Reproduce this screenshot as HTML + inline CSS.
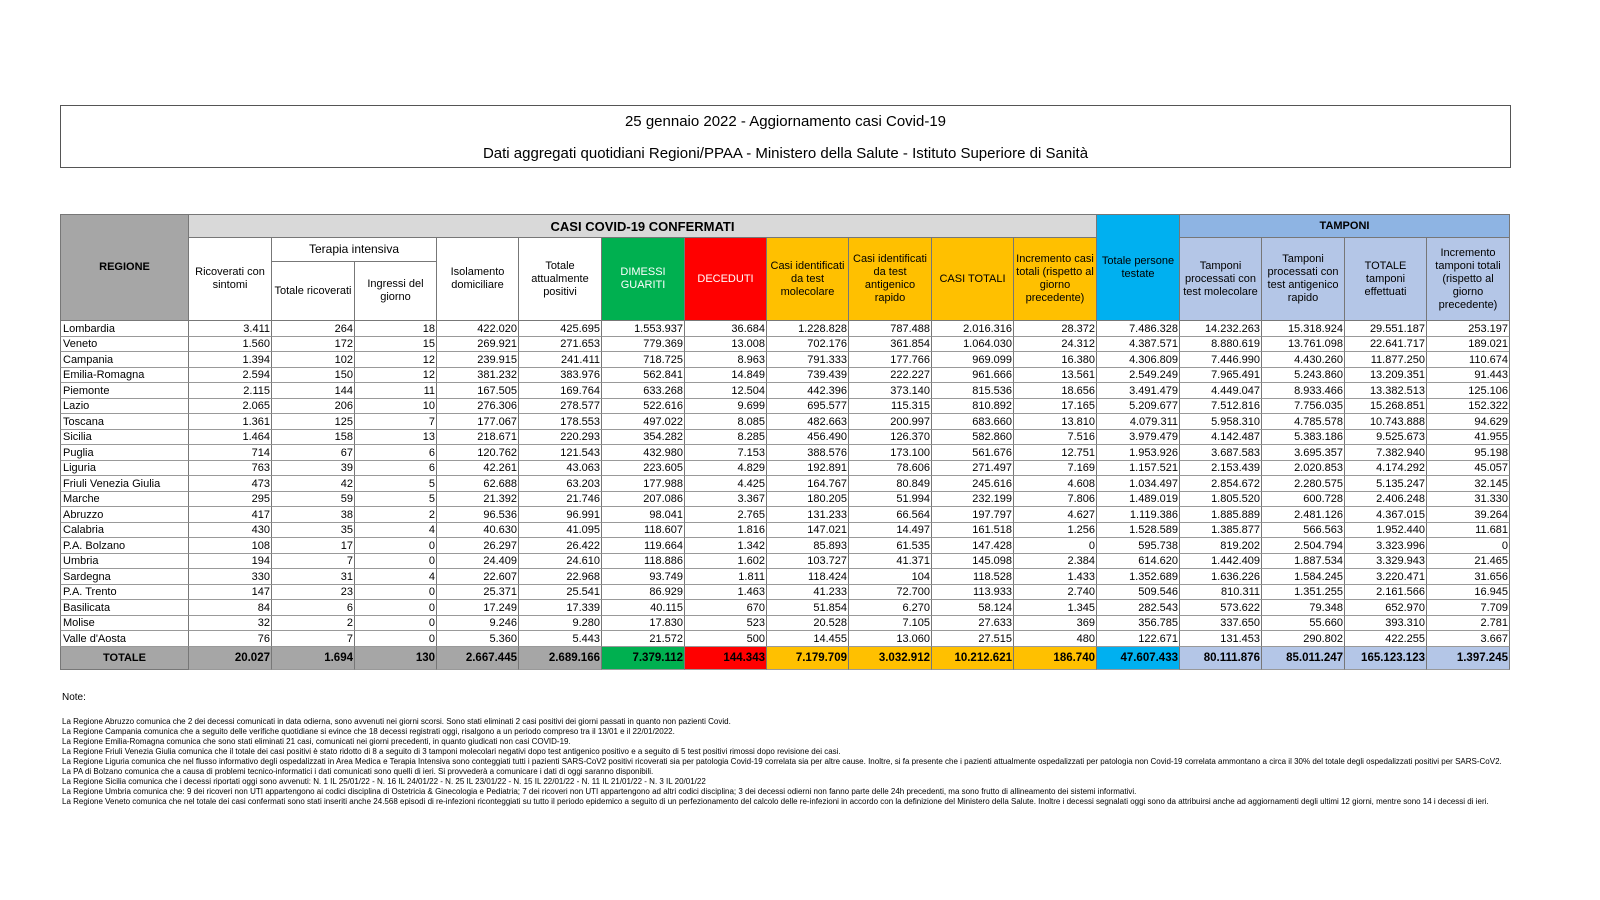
<!DOCTYPE html>
<html><head><meta charset="utf-8"><style>
body{margin:0;width:1600px;height:900px;background:#fff;position:relative;overflow:hidden;font-family:"Liberation Sans Narrow","Liberation Sans",sans-serif;color:#000}
.c{position:absolute;box-sizing:border-box;border-right:1px solid #777;border-bottom:1px solid #999;font-size:11px;display:flex;align-items:center;overflow:hidden;white-space:nowrap}
.h{justify-content:center;text-align:center;white-space:normal;line-height:13px;border:1px solid #777;border-left:none;border-top:none}
.n{justify-content:flex-end;padding-right:1px}
#title{position:absolute;left:60px;top:105px;width:1451px;height:63px;box-sizing:border-box;border:1px solid #555;text-align:center;font-size:15px}
.note{position:absolute;left:62px;font-size:8px;white-space:nowrap}
</style></head><body>
<div id="title">
<div style="position:absolute;top:7px;width:100%">25 gennaio 2022 - Aggiornamento casi Covid-19</div>
<div style="position:absolute;top:39px;width:100%">Dati aggregati quotidiani Regioni/PPAA - Ministero della Salute - Istituto Superiore di Sanità</div>
</div>
<div id="tbl"></div>
<div class="note" style="top:692px;font-size:10px">Note:</div>
<div id="notes"></div>
<script>
const regions=["Lombardia","Veneto","Campania","Emilia-Romagna","Piemonte","Lazio","Toscana","Sicilia","Puglia","Liguria","Friuli Venezia Giulia","Marche","Abruzzo","Calabria","P.A. Bolzano","Umbria","Sardegna","P.A. Trento","Basilicata","Molise","Valle d'Aosta"];
const values=[
["3.411","264","18","422.020","425.695","1.553.937","36.684","1.228.828","787.488","2.016.316","28.372","7.486.328","14.232.263","15.318.924","29.551.187","253.197"],
["1.560","172","15","269.921","271.653","779.369","13.008","702.176","361.854","1.064.030","24.312","4.387.571","8.880.619","13.761.098","22.641.717","189.021"],
["1.394","102","12","239.915","241.411","718.725","8.963","791.333","177.766","969.099","16.380","4.306.809","7.446.990","4.430.260","11.877.250","110.674"],
["2.594","150","12","381.232","383.976","562.841","14.849","739.439","222.227","961.666","13.561","2.549.249","7.965.491","5.243.860","13.209.351","91.443"],
["2.115","144","11","167.505","169.764","633.268","12.504","442.396","373.140","815.536","18.656","3.491.479","4.449.047","8.933.466","13.382.513","125.106"],
["2.065","206","10","276.306","278.577","522.616","9.699","695.577","115.315","810.892","17.165","5.209.677","7.512.816","7.756.035","15.268.851","152.322"],
["1.361","125","7","177.067","178.553","497.022","8.085","482.663","200.997","683.660","13.810","4.079.311","5.958.310","4.785.578","10.743.888","94.629"],
["1.464","158","13","218.671","220.293","354.282","8.285","456.490","126.370","582.860","7.516","3.979.479","4.142.487","5.383.186","9.525.673","41.955"],
["714","67","6","120.762","121.543","432.980","7.153","388.576","173.100","561.676","12.751","1.953.926","3.687.583","3.695.357","7.382.940","95.198"],
["763","39","6","42.261","43.063","223.605","4.829","192.891","78.606","271.497","7.169","1.157.521","2.153.439","2.020.853","4.174.292","45.057"],
["473","42","5","62.688","63.203","177.988","4.425","164.767","80.849","245.616","4.608","1.034.497","2.854.672","2.280.575","5.135.247","32.145"],
["295","59","5","21.392","21.746","207.086","3.367","180.205","51.994","232.199","7.806","1.489.019","1.805.520","600.728","2.406.248","31.330"],
["417","38","2","96.536","96.991","98.041","2.765","131.233","66.564","197.797","4.627","1.119.386","1.885.889","2.481.126","4.367.015","39.264"],
["430","35","4","40.630","41.095","118.607","1.816","147.021","14.497","161.518","1.256","1.528.589","1.385.877","566.563","1.952.440","11.681"],
["108","17","0","26.297","26.422","119.664","1.342","85.893","61.535","147.428","0","595.738","819.202","2.504.794","3.323.996","0"],
["194","7","0","24.409","24.610","118.886","1.602","103.727","41.371","145.098","2.384","614.620","1.442.409","1.887.534","3.329.943","21.465"],
["330","31","4","22.607","22.968","93.749","1.811","118.424","104","118.528","1.433","1.352.689","1.636.226","1.584.245","3.220.471","31.656"],
["147","23","0","25.371","25.541","86.929","1.463","41.233","72.700","113.933","2.740","509.546","810.311","1.351.255","2.161.566","16.945"],
["84","6","0","17.249","17.339","40.115","670","51.854","6.270","58.124","1.345","282.543","573.622","79.348","652.970","7.709"],
["32","2","0","9.246","9.280","17.830","523","20.528","7.105","27.633","369","356.785","337.650","55.660","393.310","2.781"],
["76","7","0","5.360","5.443","21.572","500","14.455","13.060","27.515","480","122.671","131.453","290.802","422.255","3.667"]];
const totals=["20.027","1.694","130","2.667.445","2.689.166","7.379.112","144.343","7.179.709","3.032.912","10.212.621","186.740","47.607.433","80.111.876","85.011.247","165.123.123","1.397.245"];
const headers=["Ricoverati con sintomi","Totale ricoverati","Ingressi del giorno","Isolamento domiciliare","Totale attualmente positivi","DIMESSI GUARITI","DECEDUTI","Casi identificati da test molecolare","Casi identificati da test antigenico rapido","CASI TOTALI","Incremento casi totali (rispetto al giorno precedente)","Totale persone testate","Tamponi processati con test molecolare","Tamponi processati con test antigenico rapido","TOTALE tamponi effettuati","Incremento tamponi totali (rispetto al giorno precedente)"];
const X=[60,189,272,355,437,519,602,685,767,849,932,1014,1097,1180,1262,1345,1427,1510];
const hdrBg=["#fff","#fff","#fff","#fff","#fff","#00b050","#ff0000","#ffc000","#ffc000","#ffc000","#ffc000","#00b0f0","#b4c6e7","#b4c6e7","#b4c6e7","#b4c6e7"];
const totBg=["#a6a6a6","#a6a6a6","#a6a6a6","#a6a6a6","#a6a6a6","#00b050","#ff0000","#ffc000","#ffc000","#ffc000","#ffc000","#00b0f0","#b4c6e7","#b4c6e7","#b4c6e7","#b4c6e7"];
const T=document.getElementById('tbl');
function cell(x,y,w,h,txt,cls,bg,name,extra){const d=document.createElement('div');d.className='c '+cls;
d.style.cssText=`left:${x}px;top:${y}px;width:${w}px;height:${h}px;background:${bg};`+(extra||'');d.textContent=txt;


T.appendChild(d);return d;}
cell(60,214,129,107,"REGIONE","h","#a6a6a6","regione-header","font-weight:bold;border-left:1px solid #777;border-top:1px solid #777");
cell(189,214,908,24,"CASI COVID-19 CONFERMATI","h","#d9d9d9","casi-confermati-header","font-weight:bold;font-size:13px;border-top:1px solid #777");
cell(1180,214,330,24,"TAMPONI","h","#8eb4e3","tamponi-header","font-weight:bold;border-top:1px solid #777");
cell(272,238,165,24,"Terapia intensiva","h","#fff","terapia-intensiva-header","font-size:12px");
for(let i=0;i<16;i++){const sub=(i==1||i==2);const y=sub?262:238;const h=sub?59:83;
 const col=(i==5||i==6)?"#fff":"#000";
 cell(X[i+1],(i==11?214:y),X[i+2]-X[i+1],(i==11?107:h),headers[i],"h",hdrBg[i],"col-header-"+(i+1),"color:"+col+(i==11?";border-top:1px solid #777;align-items:flex-start;padding-top:40px":""));}
const y0=321,rh=15.5;
regions.forEach((r,ri)=>{const y=Math.round(y0+ri*rh),h=Math.round(y0+(ri+1)*rh)-y;
 cell(60,y,129,h,r,"","#fff","region-"+r.toLowerCase().replace(/[^a-z]+/g,'-'),"padding-left:2px;border-left:1px solid #777");
 values[ri].forEach((v,ci)=>cell(X[ci+1],y,X[ci+2]-X[ci+1],h,v,"n","#fff","value-r"+ri+"-c"+ci));});
const ty=Math.round(y0+21*rh);
cell(60,ty,129,670-ty,"TOTALE","h","#a6a6a6","totale-label","font-weight:bold;border-left:1px solid #777");
totals.forEach((v,ci)=>cell(X[ci+1],ty,X[ci+2]-X[ci+1],670-ty,v,"n",totBg[ci],"totale-c"+ci,"font-weight:bold;font-size:11.5px"));
const notes=["La Regione Abruzzo  comunica che 2 dei decessi comunicati in data odierna, sono avvenuti nei giorni scorsi. Sono stati eliminati 2 casi positivi dei giorni passati in quanto non pazienti Covid.",
"La Regione Campania comunica che a seguito delle verifiche quotidiane si evince che 18 decessi registrati oggi, risalgono a un periodo compreso tra il 13/01 e il 22/01/2022.",
"La Regione Emilia-Romagna  comunica che sono stati eliminati 21 casi, comunicati nei giorni precedenti, in quanto giudicati non casi COVID-19.",
"La Regione Friuli Venezia Giulia comunica che il totale dei casi positivi è stato ridotto di 8 a seguito di 3 tamponi molecolari negativi dopo test antigenico positivo e a seguito di 5 test positivi rimossi dopo revisione dei casi.",
"La Regione Liguria comunica che nel flusso informativo degli ospedalizzati in Area Medica e Terapia Intensiva sono conteggiati tutti i pazienti SARS-CoV2 positivi ricoverati sia per patologia Covid-19 correlata sia per altre cause. Inoltre, si fa presente che i pazienti attualmente ospedalizzati per patologia non Covid-19 correlata ammontano a circa il 30% del totale degli ospedalizzati positivi per SARS-CoV2.",
"La PA di Bolzano comunica che a causa di problemi tecnico-informatici i dati comunicati sono quelli di ieri. Si provvederà a comunicare i dati di oggi saranno disponibili.",
"La Regione  Sicilia comunica che i decessi riportati oggi sono avvenuti: N. 1 IL 25/01/22 - N. 16 IL 24/01/22 - N. 25 IL 23/01/22 - N. 15 IL 22/01/22 - N. 11 IL 21/01/22 - N. 3 IL 20/01/22",
"La Regione  Umbria  comunica che: 9 dei ricoveri non UTI appartengono ai codici disciplina di Ostetricia & Ginecologia e Pediatria; 7 dei ricoveri non UTI appartengono ad altri codici disciplina; 3 dei decessi odierni non fanno parte delle 24h precedenti, ma sono frutto di allineamento dei sistemi informativi.",
"La Regione  Veneto comunica che nel totale dei casi confermati sono stati inseriti anche 24.568 episodi di re-infezioni riconteggiati su tutto il periodo epidemico a seguito di un perfezionamento del calcolo delle re-infezioni in accordo con la definizione del Ministero della Salute.  Inoltre i decessi segnalati oggi sono da attribuirsi anche ad aggiornamenti degli ultimi 12 giorni, mentre sono 14 i decessi di ieri."];
const N=document.getElementById('notes');
notes.forEach((t,i)=>{const d=document.createElement('div');d.className='note';d.style.top=(717+i*10)+'px';d.textContent=t;


N.appendChild(d);});
</script>
</body></html>
